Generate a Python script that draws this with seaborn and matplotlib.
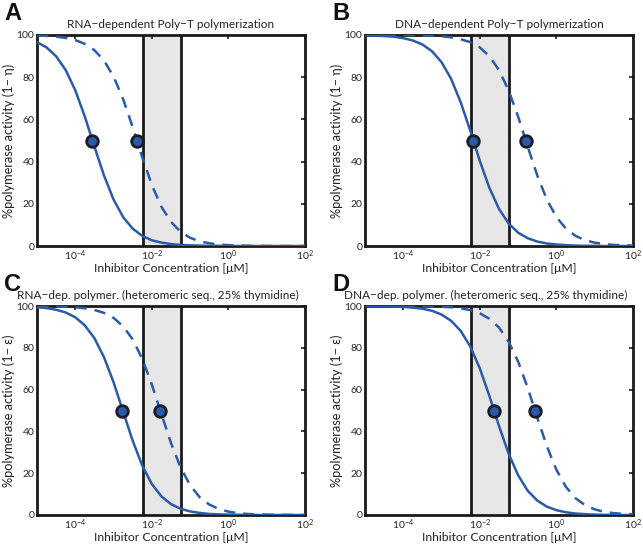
import numpy as np
import seaborn as sns
import matplotlib.pyplot as plt
from matplotlib.ticker import FixedLocator, NullLocator

# sample points (log10 of concentration in uM)
log_conc = [-5.0, -4.75, -4.5, -4.25, -4.0, -3.75, -3.5, -3.25, -3.0, -2.75,
            -2.5, -2.25, -2.0, -1.75, -1.5, -1.25, -1.0, -0.75, -0.5, -0.25,
            0.0, 0.25, 0.5, 0.75, 1.0, 1.25, 1.5, 1.75, 2.0]

rna_polyt_solid = [96.6, 94.1, 89.9, 83.4, 73.8, 61.3, 47.1, 33.4, 22.0, 13.7,
                   8.2, 4.8, 2.7, 1.6, 0.9, 0.5, 0.3, 0.2, 0.1, 0.1,
                   0.0, 0.0, 0.0, 0.0, 0.0, 0.0, 0.0, 0.0, 0.0]
rna_polyt_dashed = [99.8, 99.6, 99.2, 98.6, 97.6, 95.8, 92.8, 87.9, 80.3, 69.6,
                    56.3, 42.0, 28.9, 18.6, 11.4, 6.8, 3.9, 2.2, 1.3, 0.7,
                    0.4, 0.2, 0.1, 0.1, 0.0, 0.0, 0.0, 0.0, 0.0]
dna_polyt_solid = [99.9, 99.7, 99.5, 99.2, 98.5, 97.4, 95.5, 92.3, 87.1, 79.2,
                   68.1, 54.6, 40.3, 27.5, 17.6, 10.7, 6.3, 3.7, 2.1, 1.2,
                   0.7, 0.4, 0.2, 0.1, 0.1, 0.0, 0.0, 0.0, 0.0]
dna_polyt_dashed = [100.0, 100.0, 100.0, 100.0, 99.9, 99.9, 99.8, 99.6, 99.4, 98.9,
                    98.0, 96.6, 94.1, 89.9, 83.4, 73.8, 61.3, 47.1, 33.4, 22.0,
                    13.7, 8.2, 4.8, 2.7, 1.6, 0.9, 0.5, 0.3, 0.2]
rna_het_solid = [99.4, 99.0, 98.2, 96.9, 94.6, 90.7, 84.6, 75.5, 63.5, 49.4,
                 35.5, 23.6, 14.8, 8.9, 5.2, 3.0, 1.7, 1.0, 0.5, 0.3,
                 0.2, 0.1, 0.1, 0.0, 0.0, 0.0, 0.0, 0.0, 0.0]
rna_het_dashed = [99.9, 99.9, 99.8, 99.7, 99.4, 98.9, 98.1, 96.7, 94.3, 90.3,
                  84.0, 74.7, 62.4, 48.3, 34.4, 22.8, 14.2, 8.5, 5.0, 2.9,
                  1.6, 0.9, 0.5, 0.3, 0.2, 0.1, 0.1, 0.0, 0.0]
dna_het_solid = [100.0, 99.9, 99.9, 99.8, 99.6, 99.2, 98.7, 97.7, 95.9, 92.9,
                 88.1, 80.6, 70.1, 56.9, 42.6, 29.4, 19.0, 11.6, 6.9, 4.0,
                 2.3, 1.3, 0.7, 0.4, 0.2, 0.1, 0.1, 0.0, 0.0]
dna_het_dashed = [100.0, 100.0, 100.0, 100.0, 100.0, 99.9, 99.9, 99.8, 99.6, 99.4,
                  98.9, 98.0, 96.5, 93.9, 89.7, 83.0, 73.4, 60.8, 46.6, 32.9,
                  21.6, 13.4, 8.0, 4.7, 2.7, 1.5, 0.9, 0.5, 0.3]

# IC50 markers (uM) for solid / dashed curves, panels A-D
ic50_solid = [2.8e-4, 6.8e-3, 1.7e-3, 2.34e-2]
ic50_dashed = [4.1e-3, 0.16, 0.0166, 0.275]

# shaded concentration window (uM)
window = [0.0057, 0.056]

letters = ['A', 'B', 'C', 'D']
titles = ['RNA\u2212dependent Poly\u2212T polymerization',
          'DNA\u2212dependent Poly\u2212T polymerization',
          'RNA\u2212dep. polymer. (heteromeric seq., 25% thymidine)',
          'DNA\u2212dep. polymer. (heteromeric seq., 25% thymidine)']
ylabels = ['%polymerase activity (1\u2212 \u03b7)', '%polymerase activity (1\u2212 \u03b7)',
           '%polymerase activity (1\u2212 \u03b5)', '%polymerase activity (1\u2212 \u03b5)']
solid_curves = [rna_polyt_solid, dna_polyt_solid, rna_het_solid, dna_het_solid]
dashed_curves = [rna_polyt_dashed, dna_polyt_dashed, rna_het_dashed, dna_het_dashed]
xticks = [1e-4, 1e-2, 1e0, 1e2]
yticks = [0, 20, 40, 60, 80, 100]

sns.set_style('white')
plt.rcParams['font.family'] = ['Lato', 'DejaVu Sans']
plt.rcParams['mathtext.fontset'] = 'custom'
plt.rcParams['mathtext.rm'] = 'Lato'

blue = '#2b5ba8'
conc = [10 ** v for v in log_conc]

fig = plt.figure(figsize=(6.43, 5.5), dpi=100)
W, H = 643, 550
boxes = [(37, 35), (365, 35), (37, 306), (365, 306)]
heights = [211, 211, 209, 209]
title_x = [0.5, 0.5, 0.45, 0.45]

for i in range(4):
    left, top = boxes[i]
    ax = fig.add_axes([left / W, 1 - (top + heights[i]) / H, 268 / W, heights[i] / H])
    ax.axvspan(window[0], window[1], color='#e6e6e6', zorder=0)
    for xv in window:
        ax.axvline(xv, color='#1a1a1a', lw=2.0, zorder=1)
    sns.lineplot(x=conc, y=solid_curves[i], ax=ax, color=blue, lw=1.8, zorder=3)
    sns.lineplot(x=conc, y=dashed_curves[i], ax=ax, color=blue, lw=1.8, zorder=3,
                 linestyle=(0, (4.5, 3.2)))
    sns.scatterplot(x=[ic50_solid[i], ic50_dashed[i]], y=[50, 50], ax=ax, s=70,
                    color=blue, edgecolor='#1c1c28', linewidth=2.0, zorder=5)
    ax.set_xscale('log')
    ax.set_xlim(1e-5, 1e2)
    ax.set_ylim(0, 100)
    ax.xaxis.set_major_locator(FixedLocator(xticks))
    ax.xaxis.set_minor_locator(NullLocator())
    ax.set_yticks(yticks)
    ax.tick_params(direction='in', length=3, width=1.2, labelsize=7.5,
                   top=True, right=True, pad=2, color='#1a1a1a')
    for s in ax.spines.values():
        s.set_linewidth(2.0)
        s.set_color('#1a1a1a')
    ax.set_title(titles[i], fontsize=8.5, pad=5, color='#222222', x=title_x[i])
    ax.set_xlabel('Inhibitor Concentration [\u03bcM]', fontsize=8.8, labelpad=0, color='#222222')
    ax.set_ylabel(ylabels[i], fontsize=9.2, labelpad=1, color='#222222')
    fig.text((left - 33) / W, 1 - (top - 33) / H, letters[i], fontsize=17,
             fontweight='bold', va='top', ha='left', color='#111111',
             family=['Liberation Sans', 'DejaVu Sans'])

fig.savefig('out.png', dpi=100)
